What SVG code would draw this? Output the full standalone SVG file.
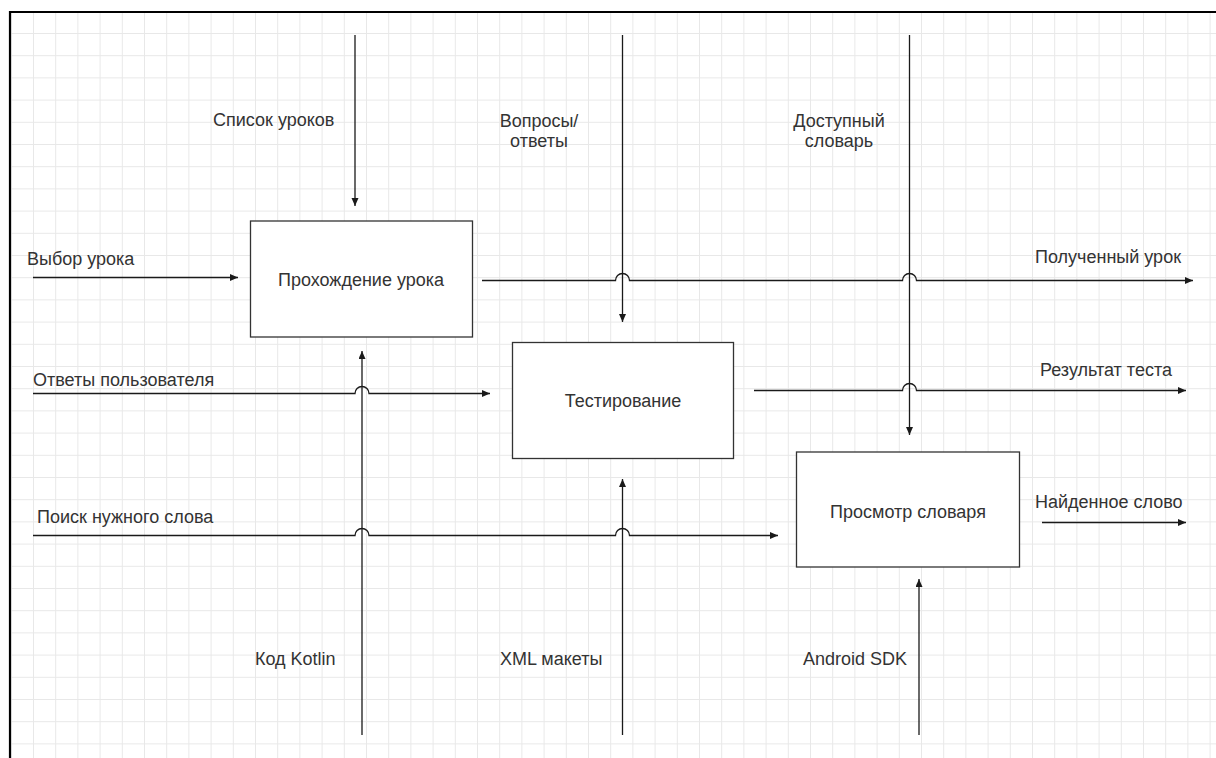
<svg xmlns="http://www.w3.org/2000/svg" width="1216" height="758" viewBox="0 0 1216 758">
  <style>
    .lbl { font-family: "Liberation Sans", Arial, sans-serif; font-size: 18px; fill: #333; }
    .mid { text-anchor: middle; }
    .box { fill: #fff; stroke: #333; stroke-width: 1.3; }
    .con { fill: none; stroke: #1a1a1a; stroke-width: 1.3; }
    .grid { stroke: #e8e8e8; stroke-width: 1; fill: none; }
  </style>
  <defs>
    <pattern id="g" patternUnits="userSpaceOnUse" x="33" y="33" width="22.2" height="22.2">
      <path class="grid" d="M0 0.5 H22.2 M0.5 0 V22.2"/>
    </pattern>
    <marker id="arr" markerUnits="userSpaceOnUse" markerWidth="10" markerHeight="8" refX="8" refY="3.5" orient="auto">
      <path d="M0,0 L8,3.5 L0,7 z" fill="#1a1a1a"/>
    </marker>
  </defs>
  <rect x="0" y="0" width="1216" height="758" fill="#fff"/>
  <rect x="10" y="12" width="1206" height="746" fill="url(#g)"/>
  <path d="M10 758 V12 H1216" fill="none" stroke="#000" stroke-width="2.2"/>

  <g id="connectors">
    <path class="con" d="M355 35 V206" marker-end="url(#arr)"/>
    <path class="con" d="M622.5 35 V322" marker-end="url(#arr)"/>
    <path class="con" d="M909.5 35 V435" marker-end="url(#arr)"/>
    <path class="con" d="M33 277.5 H238" marker-end="url(#arr)"/>
    <path class="con" d="M482 280.5 H615.5 A7 7 0 0 1 629.5 280.5 H902.5 A7 7 0 0 1 916.5 280.5 H1193" marker-end="url(#arr)"/>
    <path class="con" d="M33 393.5 H355 A7 7 0 0 1 369 393.5 H490" marker-end="url(#arr)"/>
    <path class="con" d="M754 390.5 H902.5 A7 7 0 0 1 916.5 390.5 H1186" marker-end="url(#arr)"/>
    <path class="con" d="M33 535.5 H355 A7 7 0 0 1 369 535.5 H615.5 A7 7 0 0 1 629.5 535.5 H778" marker-end="url(#arr)"/>
    <path class="con" d="M1042 522.5 H1186" marker-end="url(#arr)"/>
    <path class="con" d="M362 735 V351" marker-end="url(#arr)"/>
    <path class="con" d="M622.5 735 V479" marker-end="url(#arr)"/>
    <path class="con" d="M919 735 V579" marker-end="url(#arr)"/>
  </g>

  <g id="labels">
    <text class="lbl" x="213" y="126">Список уроков</text>
    <text class="lbl mid" x="539" y="127">Вопросы/</text>
    <text class="lbl mid" x="539" y="147">ответы</text>
    <text class="lbl mid" x="839" y="127">Доступный</text>
    <text class="lbl mid" x="839" y="147">словарь</text>
    <text class="lbl" x="27" y="265">Выбор урока</text>
    <text class="lbl" x="1035" y="263">Полученный урок</text>
    <text class="lbl" x="33" y="386">Ответы пользователя</text>
    <text class="lbl" x="1040" y="376">Результат теста</text>
    <text class="lbl" x="37" y="523">Поиск нужного слова</text>
    <text class="lbl" x="1035" y="508">Найденное слово</text>
    <text class="lbl" x="255" y="665">Код Kotlin</text>
    <text class="lbl" x="500" y="665">XML макеты</text>
    <text class="lbl" x="803" y="665">Android SDK</text>
  </g>

  <g id="node-lesson">
    <rect class="box" x="250.5" y="221" width="222" height="116"/>
    <text class="lbl mid" x="361" y="286">Прохождение урока</text>
  </g>
  <g id="node-testing">
    <rect class="box" x="512.5" y="342.5" width="221" height="116"/>
    <text class="lbl mid" x="623" y="407">Тестирование</text>
  </g>
  <g id="node-dictionary">
    <rect class="box" x="796.5" y="452" width="223" height="115"/>
    <text class="lbl mid" x="908" y="518">Просмотр словаря</text>
  </g>
</svg>
